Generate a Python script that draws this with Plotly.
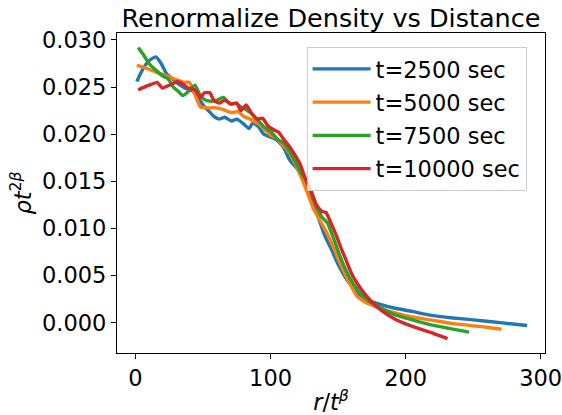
import plotly.graph_objects as go

# ---- data ----
x_2500 = [1, 5, 10, 15, 19, 23, 28, 33, 38, 42, 46, 50, 54, 58, 62, 66, 71, 75, 80, 84, 87, 91, 95, 98,
          102, 106, 110, 114, 118, 122, 126, 130, 135, 140, 145, 150, 155, 160, 166, 172, 180, 193,
          205, 218, 235, 250, 270, 290]
y_2500 = [0.0256, 0.0268, 0.0278, 0.0282, 0.0275, 0.0264, 0.0258, 0.0252, 0.0248, 0.0246, 0.0240, 0.0231,
          0.0225, 0.0219, 0.0216, 0.0218, 0.0214, 0.0216, 0.0211, 0.0206, 0.0212, 0.0208, 0.0200, 0.0198,
          0.0196, 0.0192, 0.0185, 0.0173, 0.0166, 0.0160, 0.0150, 0.0132, 0.0113, 0.0093, 0.0078, 0.0062,
          0.0049, 0.0039, 0.0030, 0.0024, 0.0020, 0.0015, 0.0012, 0.0008, 0.0005, 0.0003, 0.0000, -0.0003]

x_5000 = [1, 8, 15, 23, 30, 36, 40, 44, 48, 52, 56, 60, 65, 71, 76, 80, 85, 90, 95, 100, 104, 108, 112,
          116, 120, 124, 128, 132, 136, 140, 145, 150, 155, 160, 164, 170, 180, 193, 205, 218, 235, 255, 271]
y_5000 = [0.0273, 0.0270, 0.0266, 0.0262, 0.0258, 0.0255, 0.0255, 0.0242, 0.0229, 0.0228, 0.0228, 0.0228,
          0.0226, 0.0223, 0.0224, 0.0219, 0.0216, 0.0212, 0.0206, 0.0199, 0.0196, 0.0190, 0.0184, 0.0175,
          0.0163, 0.0150, 0.0135, 0.0120, 0.0110, 0.0100, 0.0085, 0.0068, 0.0052, 0.0038, 0.0028, 0.0022,
          0.0016, 0.0010, 0.0006, 0.0003, -0.0001, -0.0004, -0.0007]

x_7500 = [2, 6, 10, 15, 20, 24, 28, 32, 35, 39, 44, 48, 52, 56, 60, 65, 70, 74, 78, 82, 86, 90, 95, 100,
          105, 110, 114, 118, 122, 126, 130, 134, 138, 142, 146, 150, 155, 160, 166, 172, 180, 193, 205,
          218, 232, 247]
y_7500 = [0.0292, 0.0284, 0.0275, 0.0268, 0.0262, 0.0259, 0.0250, 0.0245, 0.0241, 0.0245, 0.0252, 0.0241,
          0.0236, 0.0235, 0.0236, 0.0239, 0.0232, 0.0233, 0.0229, 0.0226, 0.0222, 0.0216, 0.0208, 0.0203,
          0.0195, 0.0190, 0.0182, 0.0172, 0.0160, 0.0152, 0.0138, 0.0124, 0.0112, 0.0106, 0.0092, 0.0076,
          0.0058, 0.0044, 0.0032, 0.0024, 0.0017, 0.0008, 0.0003, -0.0002, -0.0006, -0.0010]

x_10000 = [2, 8, 12, 16, 20, 25, 31, 35, 39, 44, 48, 51, 55, 58, 62, 66, 71, 75, 78, 82, 86, 90, 94, 98,
           102, 106, 110, 114, 118, 122, 126, 130, 134, 138, 141, 144, 148, 152, 156, 160, 165, 170, 175,
           182, 193, 205, 218, 231]
y_10000 = [0.0247, 0.0251, 0.0253, 0.0255, 0.0249, 0.0252, 0.0256, 0.0253, 0.0249, 0.0247, 0.0239, 0.0244,
           0.0244, 0.0236, 0.0233, 0.0236, 0.0232, 0.0233, 0.0225, 0.0231, 0.0222, 0.0216, 0.0217, 0.0209,
           0.0205, 0.0202, 0.0194, 0.0187, 0.0178, 0.0168, 0.0152, 0.0140, 0.0125, 0.0118, 0.0117, 0.0108,
           0.0095, 0.0080, 0.0066, 0.0052, 0.0040, 0.0030, 0.0022, 0.0013, 0.0003, -0.0004, -0.0010, -0.0017]

labels = ["t=2500 sec", "t=5000 sec", "t=7500 sec", "t=10000 sec"]
colors = ["#1f77b4", "#ff7f0e", "#2ca02c", "#d62728"]
xs = [x_2500, x_5000, x_7500, x_10000]
ys = [y_2500, y_5000, y_7500, y_10000]

FONT = "DejaVu Sans"
TICK_SIZE = 22.5

fig = go.Figure()
for i, (xv, yv, lab, col) in enumerate(zip(xs, ys, labels, colors)):
    fig.add_trace(go.Scatter(x=xv, y=yv, mode="lines", name=lab, legendgroup=f"g{i}",
                             line=dict(color=col, width=3.4, shape="spline", smoothing=0.5)))

axis_common = dict(showline=True, linecolor="black", linewidth=1.1, mirror=True,
                   ticks="outside", ticklen=5, tickwidth=1.1, tickcolor="black",
                   showgrid=False, zeroline=False, automargin=False,
                   ticklabeloverflow="allow",
                   tickfont=dict(family=FONT, size=TICK_SIZE, color="black"))

fig.update_layout(
    width=562, height=415,
    margin=dict(l=117, r=17, t=33, b=62, autoexpand=False),
    paper_bgcolor="white", plot_bgcolor="white",
    font=dict(family=FONT, color="black"),
    title=dict(text="Renormalize Density vs Distance", x=(117 + 545) / 2 / 562, xanchor="center",
               y=1 - 18 / 415, yanchor="middle",
               font=dict(family=FONT, size=25.5, color="black")),
    xaxis=dict(range=[-13.7, 303.2], tickvals=[0, 100, 200, 300],
               title=dict(text="<i>r</i>/<i>t</i><sup><i>β</i></sup>", standoff=9,
                          font=dict(family=FONT, size=TICK_SIZE)),
               **axis_common),
    yaxis=dict(range=[-0.00322, 0.03074], tickvals=[0.0, 0.005, 0.01, 0.015, 0.02, 0.025, 0.03],
               tickformat=".3f",
               title=dict(text="<i>ρt</i><sup>2<i>β</i></sup>", standoff=4,
                          font=dict(family=FONT, size=TICK_SIZE)),
               **axis_common),
    legend=dict(x=0.443, y=0.957, xanchor="left", yanchor="top",
                bgcolor="rgba(255,255,255,0.8)", bordercolor="#cccccc", borderwidth=1,
                font=dict(family=FONT, size=TICK_SIZE, color="black"),
                tracegroupgap=1, itemwidth=58),
    showlegend=True,
)

fig.write_html("out.html")
